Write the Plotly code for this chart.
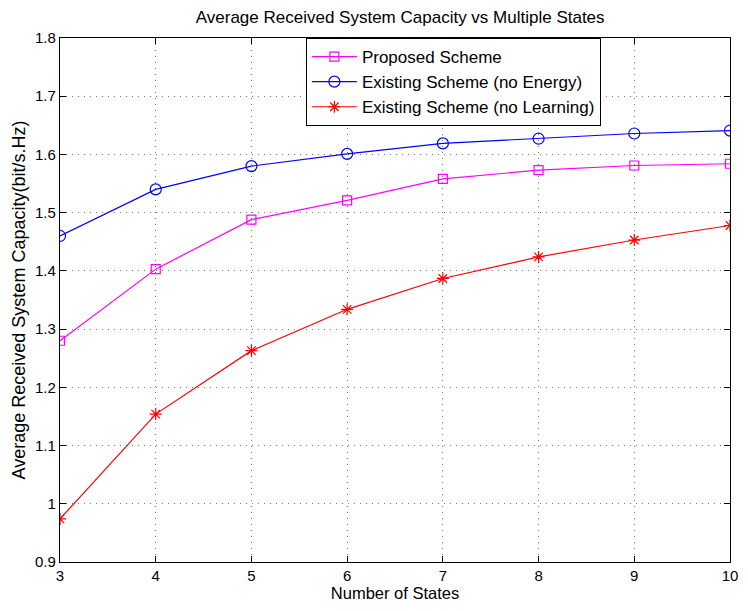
import plotly.graph_objects as go

states = [3, 4, 5, 6, 7, 8, 9, 10]
proposed = [1.280, 1.403, 1.488, 1.521, 1.558, 1.573, 1.581, 1.584]
no_energy = [1.460, 1.540, 1.580, 1.601, 1.619, 1.627, 1.636, 1.641]
no_learning = [0.974, 1.154, 1.263, 1.334, 1.387, 1.424, 1.453, 1.478]

names = ["Proposed Scheme", "Existing Scheme (no Energy)", "Existing Scheme (no Learning)"]
colors = ["#FF00FF", "#0000FF", "#FF0000"]
symbols = ["square-open", "circle-open", "asterisk-open"]
sizes = [9, 11, 10]
series = [proposed, no_energy, no_learning]

fig = go.Figure()
for name, vals, c, s, sz in zip(names, series, colors, symbols, sizes):
    fig.add_trace(go.Scatter(
        x=states, y=vals, mode="lines+markers", name=name,
        line=dict(color=c, width=1.2),
        marker=dict(symbol=s, size=sz, color=c, line=dict(color=c, width=1.2)),
    ))

font_family = "Liberation Sans, Arial, sans-serif"
axis_common = dict(
    showline=True, linecolor="black", linewidth=1.2, mirror="ticks",
    ticks="inside", ticklen=6, tickcolor="black", tickwidth=1,
    showgrid=True, gridcolor="#777777", griddash="1px,5px", gridwidth=1,
    zeroline=False, tickfont=dict(size=15, color="black", family=font_family),
)

fig.update_layout(
    width=748, height=611,
    margin=dict(l=60, r=10, t=38, b=49),
    paper_bgcolor="white", plot_bgcolor="white",
    font=dict(family=font_family, color="black"),
    title=dict(text="Average Received System Capacity vs Multiple States",
               x=0.535, xanchor="center", y=0.972, yanchor="middle",
               font=dict(size=17, color="black")),
    xaxis=dict(range=[3, 10], tickvals=states,
               title=dict(text="Number of States", font=dict(size=16.5), standoff=2),
               **axis_common),
    yaxis=dict(range=[0.9, 1.8], dtick=0.1, tick0=0.9,
               title=dict(text="Average Received System Capacity(bit/s.Hz)", font=dict(size=18), standoff=4),
               **axis_common),
    legend=dict(x=0.367, y=1.0, xanchor="left", yanchor="top",
                bgcolor="white", bordercolor="black", borderwidth=1,
                font=dict(size=17, color="black", family=font_family),
                itemwidth=45, tracegroupgap=0),
    showlegend=True,
)

fig.write_html("out.html")
